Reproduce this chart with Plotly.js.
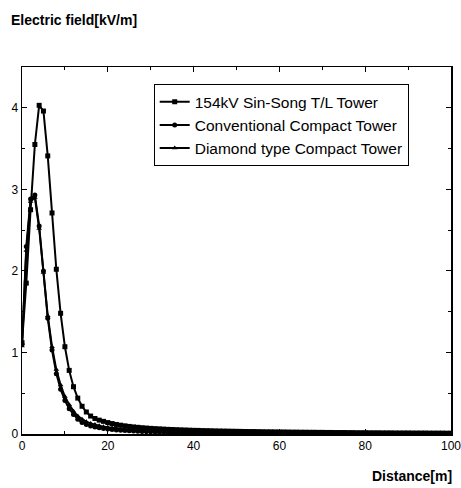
<!DOCTYPE html>
<html>
<head>
<meta charset="utf-8">
<script src="https://cdn.plot.ly/plotly-3.0.1.min.js"></script>
<style>html,body{margin:0;padding:0;background:#fff;}#chart{width:461px;height:488px;}</style>
</head>
<body>
<div id="chart"></div>
<script>
var distance = [0,1,2,3,4,5,6,7,8,9,10,11,12,13,14,15,16,17,18,19,20,21,22,23,24,25,26,27,28,29,30,31,32,33,34,35,36,37,38,39,40,41,42,43,44,45,46,47,48,49,50,51,52,53,54,55,56,57,58,59,60,61,62,63,64,65,66,67,68,69,70,71,72,73,74,75,76,77,78,79,80,81,82,83,84,85,86,87,88,89,90,91,92,93,94,95,96,97,98,99,100];

var sinSong = [1.12,1.85,2.75,3.55,4.03,3.96,3.41,2.71,2.02,1.48,
1.07,0.78,0.58,0.44,0.34,0.27,0.22,0.19,0.17,0.155,
0.14,0.128,0.117,0.108,0.100,0.093,0.087,0.082,0.077,0.073,
0.069,0.066,0.063,0.060,0.057,0.055,0.053,0.051,0.049,0.047,
0.045,0.044,0.042,0.041,0.040,0.038,0.037,0.036,0.035,0.034,
0.033,0.032,0.031,0.030,0.030,0.029,0.028,0.027,0.027,0.026,
0.025,0.025,0.024,0.023,0.023,0.022,0.022,0.021,0.021,0.020,
0.020,0.019,0.019,0.018,0.018,0.018,0.017,0.017,0.016,0.016,
0.016,0.015,0.015,0.015,0.014,0.014,0.014,0.013,0.013,0.013,
0.013,0.012,0.012,0.012,0.012,0.011,0.011,0.011,0.011,0.010,
0.010];

var conventional = [1.10,2.30,2.88,2.93,2.55,2.00,1.42,1.03,0.74,0.55,
0.41,0.31,0.24,0.18,0.14,0.115,0.098,0.086,0.076,0.068,
0.061,0.055,0.050,0.046,0.042,0.039,0.036,0.033,0.031,0.029,
0.027,0.025,0.024,0.022,0.021,0.020,0.019,0.018,0.017,0.016,
0.015,0.015,0.014,0.013,0.013,0.012,0.012,0.011,0.011,0.010,
0.010,0.010,0.009,0.009,0.009,0.008,0.008,0.008,0.008,0.007,
0.007,0.007,0.007,0.007,0.006,0.006,0.006,0.006,0.006,0.006,
0.005,0.005,0.005,0.005,0.005,0.005,0.005,0.005,0.004,0.004,
0.004,0.004,0.004,0.004,0.004,0.004,0.004,0.004,0.004,0.003,
0.003,0.003,0.003,0.003,0.003,0.003,0.003,0.003,0.003,0.003,
0.003];

var diamond = [1.08,2.25,2.85,2.90,2.52,1.98,1.45,1.07,0.79,0.60,
0.46,0.36,0.28,0.22,0.18,0.15,0.13,0.115,0.10,0.09,
0.082,0.074,0.067,0.061,0.056,0.051,0.047,0.043,0.040,0.037,
0.034,0.032,0.030,0.028,0.026,0.025,0.023,0.022,0.021,0.020,
0.019,0.018,0.017,0.016,0.016,0.015,0.014,0.014,0.013,0.013,
0.012,0.012,0.011,0.011,0.011,0.010,0.010,0.010,0.009,0.009,
0.009,0.009,0.008,0.008,0.008,0.008,0.007,0.007,0.007,0.007,
0.007,0.007,0.006,0.006,0.006,0.006,0.006,0.006,0.006,0.005,
0.005,0.005,0.005,0.005,0.005,0.005,0.005,0.005,0.005,0.005,
0.004,0.004,0.004,0.004,0.004,0.004,0.004,0.004,0.004,0.004,
0.004];

var seriesNames = ["154kV Sin-Song T/L Tower", "Conventional Compact Tower", "Diamond type Compact Tower"];
var seriesSymbols = ["square", "circle", "triangle-up"];
var seriesValues = [sinSong, conventional, diamond];

var FONT = "Liberation Sans, Arial, sans-serif";

var traces = seriesValues.map(function(vals, i){
  return {
    x: distance, y: vals, name: seriesNames[i], type: "scatter", mode: "lines+markers",
    line: {color: "#000", width: 2},
    marker: {symbol: seriesSymbols[i], size: 5, color: "#000"}
  };
});

var layout = {
  width: 461, height: 488,
  margin: {l: 22, r: 10, t: 67, b: 54, pad: 0},
  paper_bgcolor: "#fff", plot_bgcolor: "#fff",
  font: {family: FONT, color: "#000", size: 12},
  showlegend: true,
  legend: {
    x: 0.307, y: 0.953, xanchor: "left", yanchor: "top",
    bgcolor: "#fff", bordercolor: "#000", borderwidth: 1,
    font: {family: FONT, size: 15.5, color: "#000"},
    tracegroupgap: 0
  },
  xaxis: {
    range: [0, 100], dtick: 20, tick0: 0, ticks: "inside", ticklen: 5, tickwidth: 1, tickcolor: "#000",
    minor: {dtick: 10, ticks: "inside", ticklen: 3, tickcolor: "#000"},
    showline: true, linecolor: "#000", linewidth: 1.5, mirror: "ticks",
    showgrid: false, zeroline: false, ticklabeloverflow: "allow",
    tickfont: {family: FONT, size: 12, color: "#000"}
  },
  yaxis: {
    range: [0, 4.5], dtick: 1, tick0: 0, ticks: "inside", ticklen: 5, tickwidth: 1, tickcolor: "#000",
    minor: {dtick: 0.5, ticks: "inside", ticklen: 3, tickcolor: "#000"},
    showline: true, linecolor: "#000", linewidth: 1.5, mirror: "ticks",
    showgrid: false, zeroline: false,
    tickfont: {family: FONT, size: 12, color: "#000"}
  },
  annotations: [
    {text: "<b>Electric field[kV/m]</b>", xref: "paper", yref: "paper", x: -0.03, y: 1.128,
     xanchor: "left", yanchor: "middle", showarrow: false, font: {family: FONT, size: 14, color: "#000"}},
    {text: "<b>Distance[m]</b>", xref: "paper", yref: "paper", x: 1.007, y: -0.115,
     xanchor: "right", yanchor: "middle", showarrow: false, font: {family: FONT, size: 14, color: "#000"}}
  ]
};

Plotly.newPlot("chart", traces, layout, {displayModeBar: false, staticPlot: true});
</script>
</body>
</html>
